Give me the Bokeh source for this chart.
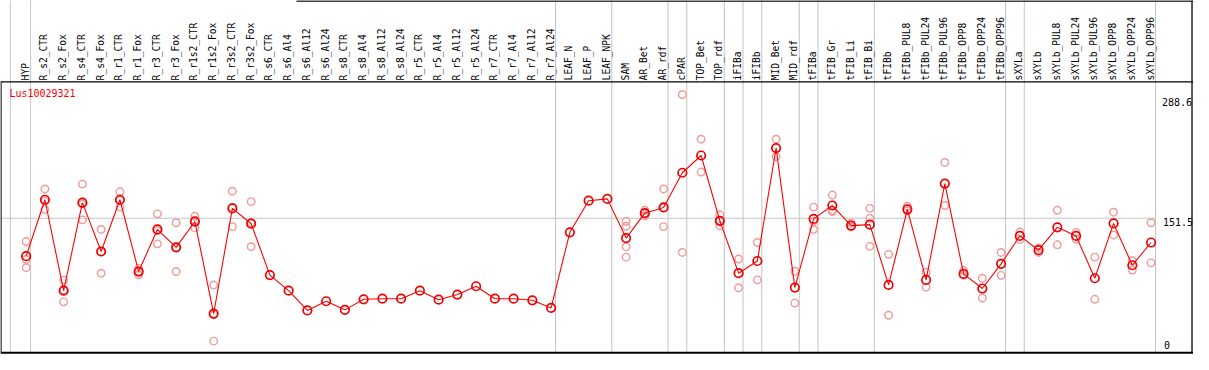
import math
from bokeh.plotting import figure
from bokeh.models import Range1d, ColumnDataSource
from bokeh.core.properties import value
from bokeh.embed import file_html
from bokeh.resources import INLINE

# ---------------- data ----------------
title_text = "Lus10029321"

categories = [
    "HYP", "R_s2_CTR", "R_s2_Fox", "R_s4_CTR", "R_s4_Fox", "R_r1_CTR", "R_r1_Fox",
    "R_r3_CTR", "R_r3_Fox", "R_r1s2_CTR", "R_r1s2_Fox", "R_r3s2_CTR", "R_r3s2_Fox",
    "R_s6_CTR", "R_s6_Al4", "R_s6_Al12", "R_s6_Al24", "R_s8_CTR", "R_s8_Al4",
    "R_s8_Al12", "R_s8_Al24", "R_r5_CTR", "R_r5_Al4", "R_r5_Al12", "R_r5_Al24",
    "R_r7_CTR", "R_r7_Al4", "R_r7_Al12", "R_r7_Al24", "LEAF_N", "LEAF_P", "LEAF_NPK",
    "SAM", "AR_Bet", "AR_rdf", "cPAR", "TOP_Bet", "TOP_rdf", "iFIBa", "iFIBb",
    "MID_Bet", "MID_rdf", "tFIBa", "tFIB_Gr", "tFIB_Li", "tFIB_Bi", "tFIBb",
    "tFIBb_PUL8", "tFIBb_PUL24", "tFIBb_PUL96", "tFIBb_OPP8", "tFIBb_OPP24",
    "tFIBb_OPP96", "sXYLa", "sXYLb", "sXYLb_PUL8", "sXYLb_PUL24", "sXYLb_PUL96",
    "sXYLb_OPP8", "sXYLb_OPP24", "sXYLb_OPP96",
]

mean_values = [
    107.9, 172.7, 68.3, 169.4, 113.3, 172.7, 90.3,
    138.6, 118.1, 147.7, 42.0, 162.8, 145.2,
    86.2, 68.3, 45.6, 56.2, 46.3, 58.4,
    59.1, 59.1, 68.3, 58.0, 63.9, 73.4,
    59.1, 59.1, 57.3, 48.5, 135.3, 171.6, 173.7,
    128.7, 157.3, 163.9, 203.7, 223.5, 148.5, 88.4, 102.4,
    232.0, 71.9, 150.7, 166.1, 143.0, 144.1, 74.9,
    161.7, 80.7, 191.3, 87.6, 70.8,
    99.1, 131.2, 114.8, 141.1, 131.2, 82.6,
    145.5, 97.5, 123.6,
]

rep_cat = (
    ["HYP"] * 3 + ["R_s2_CTR"] * 3 + ["R_s2_Fox"] * 3 + ["R_s4_CTR"] * 3
    + ["R_s4_Fox"] * 3 + ["R_r1_CTR"] * 3 + ["R_r1_Fox"] * 3 + ["R_r3_CTR"] * 3
    + ["R_r3_Fox"] * 3 + ["R_r1s2_CTR"] * 3 + ["R_r1s2_Fox"] * 3
    + ["R_r3s2_CTR"] * 3 + ["R_r3s2_Fox"] * 3
    + ["SAM"] * 4 + ["AR_Bet"] * 3 + ["AR_rdf"] * 3 + ["cPAR"] * 2
    + ["TOP_Bet"] * 2 + ["TOP_rdf"] * 3 + ["iFIBa"] * 2 + ["iFIBb"] * 2
    + ["MID_Bet"] * 2 + ["MID_rdf"] * 2 + ["tFIBa"] * 3 + ["tFIB_Gr"] * 3
    + ["tFIB_Li"] * 2 + ["tFIB_Bi"] * 3 + ["tFIBb"] * 2 + ["tFIBb_PUL8"] * 2
    + ["tFIBb_PUL24"] * 2 + ["tFIBb_PUL96"] * 2 + ["tFIBb_OPP8"] * 2
    + ["tFIBb_OPP24"] * 2 + ["tFIBb_OPP96"] * 2 + ["sXYLa"] * 2 + ["sXYLb"] * 2
    + ["sXYLb_PUL8"] * 2 + ["sXYLb_PUL24"] * 2 + ["sXYLb_PUL96"] * 2
    + ["sXYLb_OPP8"] * 2 + ["sXYLb_OPP24"] * 2 + ["sXYLb_OPP96"] * 2
)
rep_val = [
    124.7, 104.1, 94.7,
    185.1, 161.7, 171.1,
    80.4, 55.5, 69.1,
    190.6, 149.6, 167.9,
    138.6, 88.4, 113.0,
    181.8, 164.2, 171.9,
    93.9, 86.5, 90.3,
    156.5, 122.1, 137.2,
    146.3, 90.3, 117.6,
    153.7, 140.4, 149.3,
    74.9, 10.4, 40.5,
    182.5, 141.9, 163.9,
    170.5, 118.8, 146.3,
    148.0, 142.2, 118.8, 106.8,
    160.6, 156.8, 154.3,
    185.1, 163.4, 141.9,
    293.5, 112.2,
    242.2, 204.5,
    155.4, 142.6, 148.5,
    104.6, 71.6,
    123.6, 80.7,
    242.2, 222.1,
    90.6, 54.0,
    164.2, 148.0, 138.6,
    178.1, 160.6, 159.0,
    145.9, 141.5,
    162.8, 151.3, 119.2,
    110.0, 40.1,
    165.3, 159.8,
    89.5, 72.3,
    215.5, 166.1,
    91.4, 85.9,
    82.6, 59.9,
    112.2, 85.9,
    126.9, 135.6,
    112.2, 117.3,
    160.6, 121.0,
    135.3, 127.6,
    106.8, 58.4,
    158.4, 132.3,
    102.7, 92.0,
    146.3, 100.2,
]

# groups end after these categories (separator lines)
group_ends = ["HYP", "R_r7_Al24", "LEAF_NPK", "AR_rdf", "cPAR", "TOP_rdf", "iFIBa",
              "iFIBb", "MID_rdf", "tFIBa", "tFIB_Bi", "tFIBb_OPP96", "sXYLa",
              "sXYLb_OPP96"]

y_tick_values = [288.6, 151.5, 0]
y_tick_labels = ["288.6", "151.5", "0"]

# ---------------- layout helpers (reference-pixel -> data) ----------------
W, H = 1193, 354
REF_W, REF_H = 1209, 370
X0, DX = 26.0, 19.0          # first category position, spacing (ref px)
Y0, DY = 365.5, 0.9105       # y of value 0, px per unit (ref px)


def rx(px):
    return (px - X0) / DX


def ry(py):
    return (Y0 - py) / DY


p = figure(width=W, height=H, output_backend="svg", toolbar_location=None,
           x_range=Range1d(rx(0), rx(REF_W)), y_range=Range1d(ry(REF_H), ry(0)),
           x_axis_location=None, y_axis_location=None, min_border=0,
           outline_line_color=None, background_fill_color="white")
p.grid.visible = False

xs = list(range(len(categories)))
idx = {c: i for i, c in enumerate(categories)}

gray = "#c4c4c4"
# vertical separators
sep_x = [rx(10)] + [idx[c] + 4.5 / DX for c in group_ends]
p.segment(x0=sep_x, x1=sep_x, y0=[ry(0)] * len(sep_x), y1=[ry(368)] * len(sep_x),
          line_color=gray, line_width=1)
# horizontal reference line at 151.5
p.segment(x0=[rx(0)], x1=[idx["sXYLb_OPP96"] + 4.5 / DX], y0=[151.5], y1=[151.5],
          line_color=gray, line_width=1)

# frame lines
blk = "black"
p.segment(x0=[rx(0), rx(0.5), rx(REF_W - 1.5), rx(300)],
          x1=[rx(REF_W), rx(0.5), rx(REF_W - 1.5), rx(REF_W)],
          y0=[ry(85), ry(85), ry(0), ry(0.5)],
          y1=[ry(85), ry(368), ry(368), ry(0.5)],
          line_color=blk, line_width=1.3)
p.segment(x0=[rx(0)], x1=[rx(REF_W)], y0=[ry(368.3)], y1=[ry(368.3)],
          line_color=blk, line_width=2)

# replicates
rsrc = ColumnDataSource(dict(x=[idx[c] for c in rep_cat], y=rep_val))
p.scatter("x", "y", source=rsrc, marker="circle", size=7.5, fill_color=None,
          line_color="#f09a9a", line_width=1.4)

# mean line + points
msrc = ColumnDataSource(dict(x=xs, y=mean_values))
p.line("x", "y", source=msrc, line_color="red", line_width=1.1)
p.scatter("x", "y", source=msrc, marker="circle", size=8.5, fill_color=None,
          line_color="#ee0000", line_width=1.7)

# category labels (rotated)
lsrc = ColumnDataSource(dict(x=[i - 1.0 / DX for i in xs], y=[ry(83.5)] * len(xs),
                             t=categories))
p.text("x", "y", text="t", source=lsrc, angle=math.pi / 2, text_align="left",
       text_baseline="middle", text_font=value("DejaVu Sans Mono"),
       text_font_size="9.6px", text_color="black")

# title
p.text(x=[rx(9)], y=[ry(91.5)], text=[title_text], text_align="left",
       text_baseline="top", text_font=value("DejaVu Sans Mono"),
       text_font_size="10px", text_color="red")

# right-side value labels
lab_y = [ry(106), ry(231), ry(360.5)]
lab_x = [rx(1177), rx(1178), rx(1179)]
p.text(x=lab_x, y=lab_y, text=y_tick_labels, text_align="left",
       text_baseline="middle", text_font=value("DejaVu Sans Mono"),
       text_font_size="10px", text_color="black")

open("out.html", "w").write(file_html(p, INLINE))
